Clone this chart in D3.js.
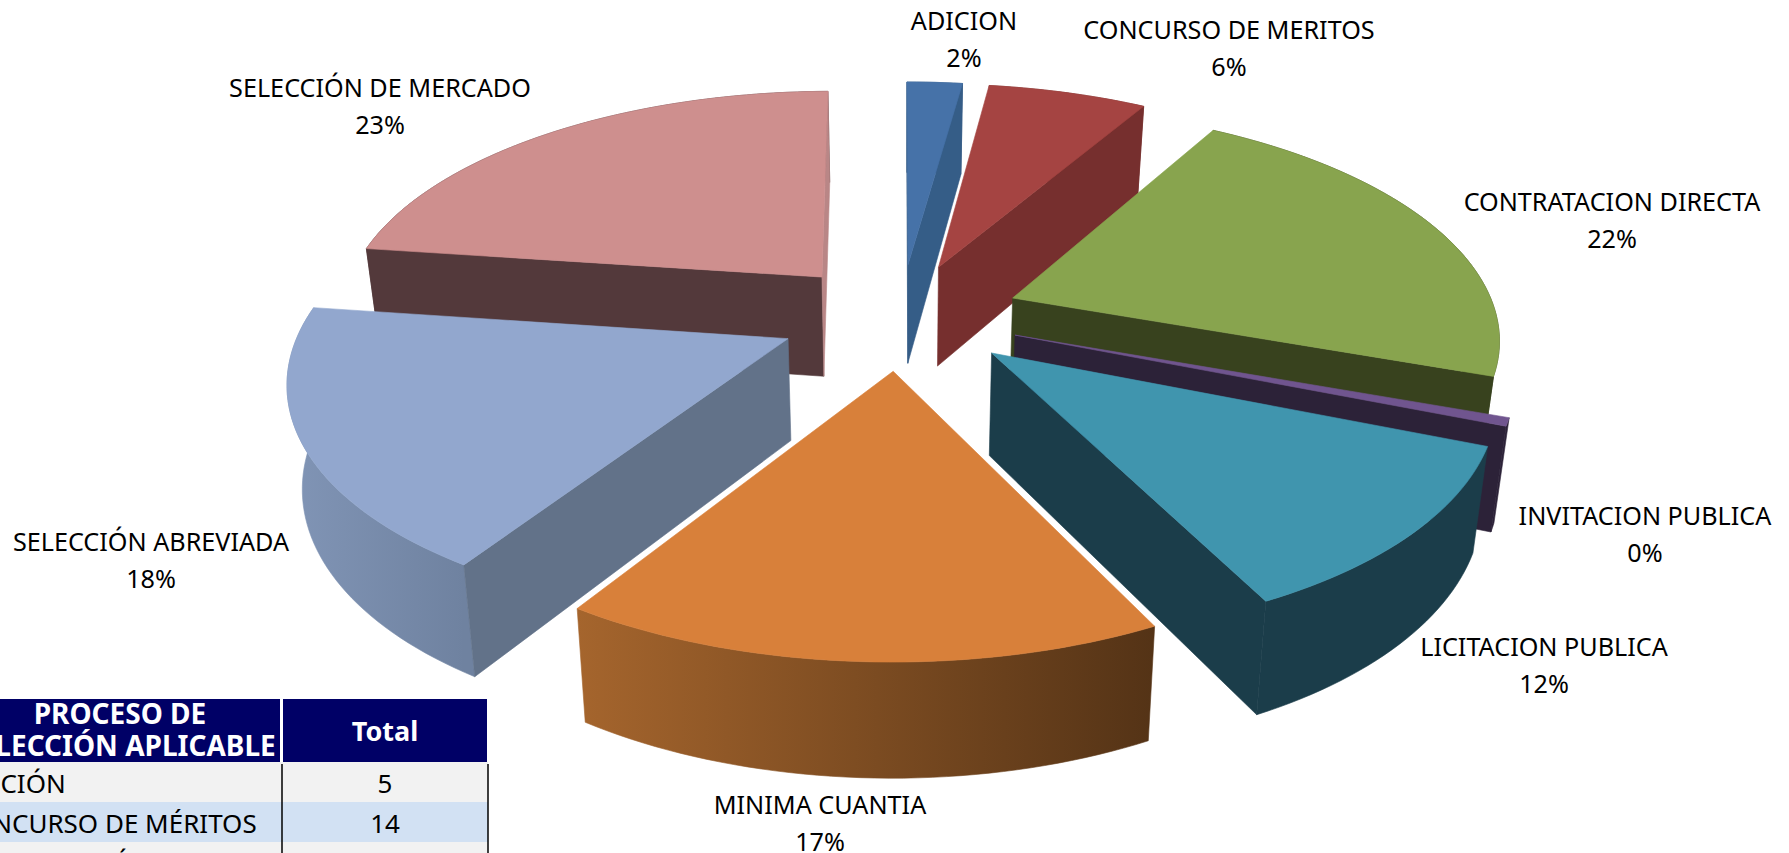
<!DOCTYPE html>
<html>
<head>
<meta charset="utf-8">
<script src="https://cdnjs.cloudflare.com/ajax/libs/d3/7.8.5/d3.min.js"></script>
<style>
html, body { margin: 0; padding: 0; background: #fff; overflow: hidden; }
text { font-family: "Noto Sans", sans-serif; fill: #000; }
</style>
</head>
<body>
<div id="chart"></div>
<script>
const width = 1789, height = 853;

// chart data
const categories = ['ADICION', 'CONCURSO DE MERITOS', 'CONTRATACION DIRECTA', 'INVITACION PUBLICA',
    'LICITACION PUBLICA', 'MINIMA CUANTIA', 'SELECCIÓN ABREVIADA', 'SELECCIÓN DE MERCADO'];
const values = [5, 14, 52, 1, 28, 40, 43, 55];

// table under the pie, cut by the bottom of the window
const tableHeader = [['PROCESO DE', 'SELECCIÓN APLICABLE'], ['Total']];
const tableNames = ['ADICIÓN', 'CONCURSO DE MÉRITOS', 'CONTRATACIÓN DIRECTA'];
const tableTotals = [5, 14, 52];

// colours per slice: top, cut faces, wall at left and right
const topColors = ['#4672a8', '#a54442', '#88a44e', '#70558f', '#4095ae', '#d8803a', '#92a7ce', '#ce8f8e'];
const startFaceColors = ['#355d87', '#762f2e', '#38421e', '#2c2238', '#1b3d4a', '#8a5326', '#627289', '#53393b'];
const endFaceColors = ['#355d87', '#762f2e', '#38421e', '#2c2238', '#1b3d4a', '#8a5326', '#627289', '#b98686'];
const wallLeft = ['#355d87', '#762f2e', '#38421e', '#2c2238', '#1b3d4a', '#a5652d', '#8195b6', '#53393b'];
const wallRight = ['#355d87', '#762f2e', '#38421e', '#2c2238', '#1b3d4a', '#543316', '#6f82a0', '#53393b'];

// label anchors, centre of the two lines
const labelX = [964, 1229, 1612, 1645, 1544, 820, 151, 380];
const labelY = [22, 31, 203, 517, 648, 806, 543, 89];
const labelGap = 36.5;
const labelSize = 25.2;

// 3d view of the pie
const view = {cx: 900, cy: 316, rx: 484, ry: 226, dist: 6.4, explode: 0.236, spreadX: 1.062};
const depth = {shrink: 0.975, base: 87, slope: 0.044};

// the perspective in the picture turns the slice edges a little, degrees in, degrees added
const turn = d3.scaleLinear()
    .domain([0, 7.6, 28.7, 107.4, 108.9, 151.3, 211.8, 276.8, 360])
    .range([0, 0.3, 1.7, 2.3, 2.8, 2.2, 1, 1, -0.6]);
const deg = 180 / Math.PI;
const turned = a => a + turn(a * deg) / deg;

const svg = d3.select('#chart').append('svg')
    .attr('width', width)
    .attr('height', height);
const defs = svg.append('defs');

const total = d3.sum(values);
const pct = d3.format('.0%');
const arcs = d3.pie().sort(null).value(d => d)(values);

// ground point to screen, camera in front of the pie
function project(x, y) {
    const s = view.dist / (view.dist - y);
    return [view.cx + x * view.rx * s, view.cy + y * view.ry * s];
}

// same point on the lower side of the slice
function lower(p) {
    return [view.cx + (p[0] - view.cx) * depth.shrink, p[1] + depth.base + depth.slope * p[1]];
}

const line = d3.line().curve(d3.curveLinear);
const closed = pts => line(pts) + 'Z';

const sliceData = arcs.map(function (a, i) {
    const start = turned(a.startAngle), end = turned(a.endAngle);
    const mid = (start + end) / 2;
    const ox = view.explode * view.spreadX * Math.sin(mid), oy = -view.explode * Math.cos(mid);
    const steps = Math.max(4, Math.ceil((end - start) * 40));
    const outer = d3.range(steps + 1).map(function (k) {
        const t = start + (end - start) * k / steps;
        return project(ox + Math.sin(t), oy - Math.cos(t));
    });
    return {i: i, apex: project(ox, oy), outer: outer};
});

// back to front, the mercado slice goes behind everything
const paintOrder = [7, 0, 1, 2, 3, 4, 6, 5];

paintOrder.forEach(function (i) {
    const d = sliceData[i];
    const g = svg.append('g').attr('class', 'slice');
    const paint = function (pts, fill) {
        g.append('path').attr('d', closed(pts))
            .attr('fill', fill)
            .attr('stroke', fill)
            .attr('stroke-width', 0.6);
    };

    // outer wall
    const gradId = 'wall' + i;
    const xs = d.outer.map(p => p[0]);
    const gr = defs.append('linearGradient').attr('id', gradId)
        .attr('gradientUnits', 'userSpaceOnUse')
        .attr('x1', d3.min(xs)).attr('x2', d3.max(xs))
        .attr('y1', 0).attr('y2', 0);
    gr.append('stop').attr('offset', 0).attr('stop-color', wallLeft[i]);
    gr.append('stop').attr('offset', 1).attr('stop-color', wallRight[i]);
    paint(d.outer.concat(d.outer.map(lower).reverse()), 'url(#' + gradId + ')');

    // the two cut faces, only the ones turned to the camera
    const first = d.outer[0], last = d.outer[d.outer.length - 1];
    const startFace = [d.apex, first, lower(first), lower(d.apex)];
    const endFace = [d.apex, lower(d.apex), lower(last), last];
    if (d3.polygonArea(startFace) > 0) paint(startFace, startFaceColors[i]);
    if (d3.polygonArea(endFace) > 0) paint(endFace, endFaceColors[i]);

    // top
    paint([d.apex].concat(d.outer), topColors[i]);
});

// labels
categories.forEach(function (name, i) {
    const t = svg.append('text')
        .attr('text-anchor', 'middle')
        .attr('font-size', labelSize);
    t.append('tspan').attr('x', labelX[i]).attr('y', labelY[i] + 8).text(name);
    t.append('tspan').attr('x', labelX[i]).attr('y', labelY[i] + 8 + labelGap).text(pct(values[i] / total));
});

// table
const rowY = d3.scaleBand().domain(d3.range(tableNames.length)).range([762, 882]);
const table = svg.append('g').attr('class', 'table');

table.append('rect').attr('x', 0).attr('y', 699).attr('width', 280).attr('height', 63).attr('fill', '#000066');
table.append('rect').attr('x', 283).attr('y', 699).attr('width', 204).attr('height', 63).attr('fill', '#000066');

tableHeader[0].forEach(function (s, k) {
    table.append('text').attr('x', 120).attr('y', 724 + k * 32)
        .attr('text-anchor', 'middle').attr('font-weight', 'bold').attr('font-size', 28)
        .style('fill', '#fff').text(s);
});
table.append('text').attr('x', 385).attr('y', 741)
    .attr('text-anchor', 'middle').attr('font-weight', 'bold').attr('font-size', 27)
    .style('fill', '#fff').text(tableHeader[1][0]);

tableNames.forEach(function (name, i) {
    table.append('rect').attr('x', 0).attr('y', rowY(i)).attr('width', 488).attr('height', rowY.bandwidth())
        .attr('fill', i % 2 ? '#d2e1f3' : '#f2f2f2');
    table.append('text').attr('x', -44).attr('y', rowY(i) + 31).attr('font-size', 26).text(name);
    table.append('text').attr('x', 385).attr('y', rowY(i) + 31)
        .attr('text-anchor', 'middle').attr('font-size', 26).text(tableTotals[i]);
});

[282, 488].forEach(function (x) {
    table.append('line').attr('x1', x).attr('x2', x).attr('y1', 764).attr('y2', height)
        .attr('stroke', '#000').attr('stroke-width', 1.5);
});
</script>
</body>
</html>
